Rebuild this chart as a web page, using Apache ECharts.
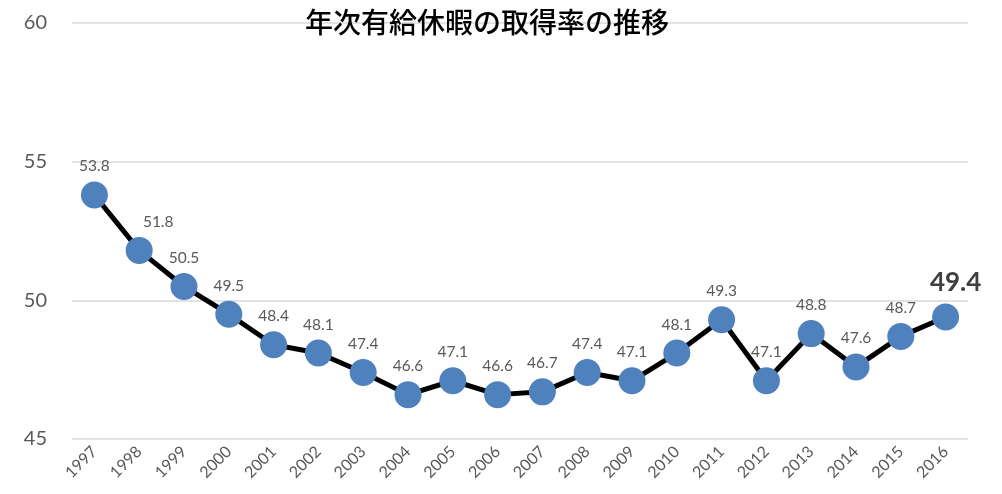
<!DOCTYPE html>
<html>
<head>
    <meta charset="utf-8" />
    <title>年次有給休暇の取得率の推移</title>
    <style>
        html, body { margin: 0; padding: 0; background: #fff; }
        #charts { width: 1002px; height: 494px; }
    </style>
</head>
<body>
    <div id="charts"></div>
    <script src="https://cdn.jsdelivr.net/npm/echarts@6/dist/echarts.min.js"></script>
    <script type="text/javascript">
        // 年
        var years = ['1997', '1998', '1999', '2000', '2001', '2002', '2003', '2004', '2005', '2006',
            '2007', '2008', '2009', '2010', '2011', '2012', '2013', '2014', '2015', '2016'];
        // 取得率(%)
        var rates = [53.8, 51.8, 50.5, 49.5, 48.4, 48.1, 47.4, 46.6, 47.1, 46.6,
            46.7, 47.4, 47.1, 48.1, 49.3, 47.1, 48.8, 47.6, 48.7, 49.4];
        var yTicks = [45, 50, 55, 60];

        var font = 'Lato, "Noto Sans", sans-serif';

        // 最新年だけラベルを大きく
        var seriesData = rates.map(function (v, i) {
            var item = { value: v };
            if (i === 1) {
                item.label = { offset: [19, 0] };
            }
            if (i === rates.length - 1) {
                item.label = {
                    fontSize: 26,
                    fontWeight: 'bold',
                    color: '#404040',
                    distance: 8,
                    offset: [10, 0]
                };
            }
            return item;
        });

        var myChart = echarts.init(document.getElementById('charts'));

        var option = {
            animation: false,
            title: {
                text: '年次有給休暇の取得率の推移',
                left: 305,
                top: 8,
                padding: 0,
                textStyle: {
                    fontFamily: '"Noto Sans CJK JP", sans-serif',
                    fontSize: 28,
                    fontWeight: 500,
                    color: '#000'
                }
            },
            grid: {
                left: 72,
                right: 34,
                top: 23,
                bottom: 55
            },
            xAxis: {
                type: 'category',
                data: years,
                axisLine: { show: false },
                axisTick: { show: false },
                axisLabel: {
                    rotate: 45,
                    margin: 10,
                    fontFamily: font,
                    fontSize: 16,
                    color: '#595959'
                }
            },
            yAxis: {
                type: 'value',
                min: yTicks[0],
                max: yTicks[yTicks.length - 1],
                interval: 5,
                axisLine: { show: false },
                axisTick: { show: false },
                splitLine: { lineStyle: { color: '#d9d9d9', width: 1.5 } },
                axisLabel: {
                    margin: 25,
                    fontFamily: font,
                    fontSize: 20,
                    color: '#595959'
                }
            },
            series: [
                {
                    name: '取得率',
                    type: 'line',
                    data: seriesData,
                    symbol: 'circle',
                    symbolSize: 27,
                    lineStyle: { color: '#000', width: 5 },
                    itemStyle: { color: '#4f81bd' },
                    label: {
                        show: true,
                        position: 'top',
                        distance: 7,
                        fontFamily: font,
                        fontSize: 15.5,
                        color: '#595959'
                    },
                    z: 3
                }
            ]
        };

        myChart.setOption(option);
    </script>
</body>
</html>
